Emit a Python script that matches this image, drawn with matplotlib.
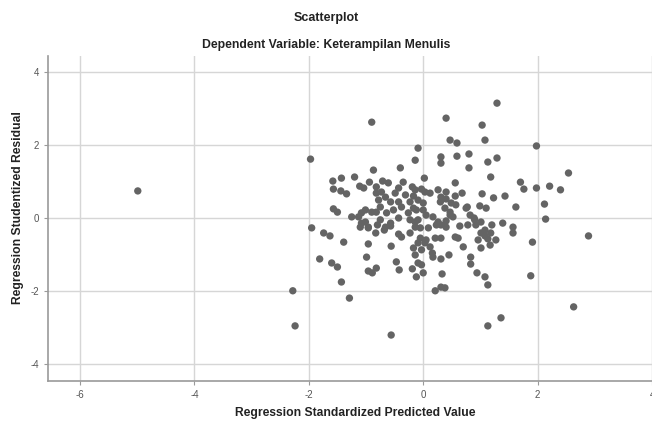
import matplotlib
matplotlib.use('Agg')
import matplotlib.pyplot as plt
import numpy as np

# data (standardized predicted, studentized residual)
pred = [
    -4.99, -2.28, -2.24, -1.97, -0.90, -0.56, 1.29, 1.03, 0.40, 0.47,
    0.59, 1.08, 1.98, 0.31, 0.31, 0.59, 0.80, 0.80, 1.13, 1.29,
    1.18, 2.54, 1.70, 1.76, 1.98, 2.21, 2.40, 0.56, 0.68, 1.03,
    1.23, 1.43, 1.62, 2.12, 0.99, 1.10, 0.77, 2.14, -0.09, -0.14,
    -0.87, -0.40, 0.02, -1.58, -1.43, -1.20, -1.57, -1.44, -1.34, -1.11,
    -0.94, -0.71, -0.61, -0.35, -0.43, -1.04, -0.82, -0.19, -0.03, -1.57,
    -1.50, -1.25, -1.95, -1.74, -1.63, -1.39, -1.81, -1.60, -1.50, -1.43,
    -1.29, -0.96, -0.99, -0.96, -0.89, -0.82, -0.56, -0.47, -0.42, -0.68,
    -0.57, -0.83, -0.96, -1.10, -1.08, -1.01, -0.80, -0.43, -0.38, -0.23,
    -0.19, -0.12, 0.00, -0.09, -0.17, -0.14, -0.09, -0.03, 0.21, 0.31,
    0.38, 0.33, 0.31, 0.45, 0.16, 0.12, 0.03, 0.83, 0.83, 0.94,
    1.08, 1.13, 1.36, 1.13, 2.63, 1.88, 1.91, 2.89, 1.57, 1.57,
    1.27, 1.17, 1.01, 1.20, 1.01, 0.92, 0.89, 0.82, 0.57, 0.47,
    0.64, 0.61, 0.70, 0.31, 1.08, 1.13, 1.08, 1.18, -0.82, -0.73,
    -0.66, -0.78, -0.75, -0.57, -0.49, -0.31, -0.23, -0.17, -0.14, -0.43,
    -0.38, -0.52, -0.64, -0.82, -0.90, -1.01, -1.13, -1.08, -0.96, -0.75,
    -0.66, -0.57, -0.43, -0.26, -0.17, -0.23, -0.14, 0.03, 0.12, 0.26,
    0.40, 0.56, 0.31, 0.30, 0.40, 0.49, 0.38, 0.47, 0.00, -0.09,
    -0.12, 0.00, 0.05, -0.09, 0.17, 0.26, 0.31, 0.52, 0.40, 0.75,
    0.90, 1.39, 0.78, -0.14, -0.05, 0.09, 0.23, 0.40, 1.01, 0.96,
    0.56, -0.05, 0.05, 0.21, 0.17, -0.03,
]
resid = [
    0.74, -1.99, -2.95, 1.61, 2.62, -3.20, 3.14, 2.54, 2.73, 2.13,
    2.05, 2.13, 1.97, 1.67, 1.50, 1.69, 1.75, 1.37, 1.53, 1.64,
    1.12, 1.23, 0.98, 0.79, 0.82, 0.87, 0.77, 0.96, 0.68, 0.66,
    0.55, 0.60, 0.30, 0.38, 0.33, 0.27, 0.30, -0.03, 1.91, 1.58,
    1.31, 1.37, 1.09, 1.01, 1.09, 1.12, 0.79, 0.74, 0.66, 0.87,
    0.98, 1.01, 0.96, 0.98, 0.82, 0.82, 0.85, 0.85, 0.79, 0.25,
    0.16, 0.03, -0.27, -0.41, -0.49, -0.66, -1.12, -1.23, -1.34, -1.75,
    -2.19, -0.71, -1.07, -1.45, -1.50, -1.37, -0.77, -1.20, -1.42, -0.33,
    -0.22, -0.41, -0.25, -0.25, 0.14, -0.11, -0.19, -0.44, -0.52, -0.41,
    -1.39, -1.61, -1.50, -1.23, -0.82, -1.01, -0.68, -0.87, -1.99, -1.89,
    -1.91, -1.53, -1.12, -1.01, -0.96, -0.79, -0.68, -1.07, -1.26, -1.50,
    -1.61, -1.83, -2.73, -2.95, -2.43, -1.58, -0.66, -0.49, -0.25, -0.41,
    -0.60, -0.74, -0.82, -0.19, -0.11, -0.19, 0.00, 0.08, 0.36, 0.08,
    -0.22, -0.55, -0.79, -0.55, -0.49, -0.57, -0.33, -0.41, 0.68, 0.71,
    0.57, 0.49, 0.30, 0.44, 0.68, 0.63, 0.44, 0.60, 0.77, 0.44,
    0.30, 0.22, 0.14, 0.16, 0.16, 0.22, 0.03, -0.14, -0.27, -0.05,
    -0.25, -0.14, 0.00, 0.14, 0.27, -0.05, -0.11, 0.71, 0.68, 0.77,
    0.71, 0.60, 0.57, 0.44, 0.52, 0.41, 0.27, 0.16, 0.41, 0.49,
    0.22, 0.22, 0.08, -0.05, 0.03, -0.11, -0.19, 0.03, -0.08, 0.27,
    -0.05, -0.14, -0.19, -0.25, -0.27, -0.27, -0.19, -0.25, -0.41, -0.60,
    -0.52, -0.55, -0.60, -0.55, -1.07, -1.28,
]

xticks = [-6, -4, -2, 0, 2, 4]
yticks = [-4, -2, 0, 2, 4]

plt.rcParams['font.family'] = ['Liberation Sans', 'DejaVu Sans']
plt.rcParams['axes.unicode_minus'] = False

fig = plt.figure(figsize=(6.52, 4.24), dpi=100)
ax = fig.add_axes([0.0736, 0.102, 0.9264, 0.766])

ax.scatter(pred, resid, s=28, color='#646464', edgecolors='none', zorder=3)

ax.set_xlim(-6.56, 3.95)
ax.set_ylim(-4.45, 4.43)
ax.set_xticks(xticks)
ax.set_yticks(yticks)
ax.grid(True, color='#d6d6d6', linewidth=1.0, zorder=0)
ax.set_axisbelow(True)

for s in ['top', 'right']:
    ax.spines[s].set_visible(False)
for s in ['left', 'bottom']:
    ax.spines[s].set_color('#9a9a9a')
    ax.spines[s].set_linewidth(1.2)
ax.tick_params(colors='#9a9a9a', labelcolor='#555555', labelsize=7, length=3)

# axis titles placed in figure coords so nothing is clipped
fig.text(0.545, 0.026, 'Regression Standardized Predicted Value', ha='center',
         va='center', fontsize=8.7, fontweight='bold', color='#222222')
fig.text(0.028, 0.51, 'Regression Studentized Residual', ha='center',
         va='center', rotation=90, fontsize=8.7, fontweight='bold',
         color='#222222')

fig.text(0.5, 0.957, 'Scatterplot', ha='center', va='center',
         fontsize=9, fontweight='bold', color='#222222')
fig.text(0.5, 0.894, 'Dependent Variable: Keterampilan Menulis', ha='center',
         va='center', fontsize=8.8, fontweight='bold', color='#222222')

fig.savefig('out.png', dpi=100)
plt.close(fig)
